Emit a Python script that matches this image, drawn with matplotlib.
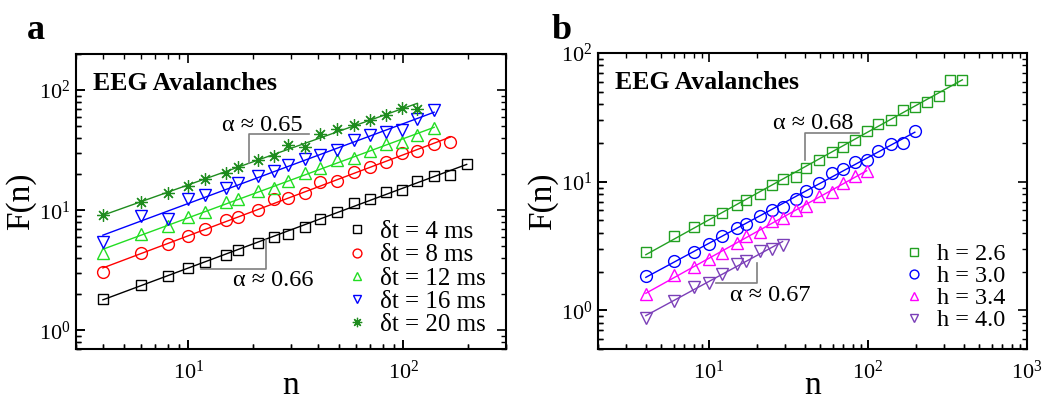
import matplotlib
matplotlib.use("Agg")
import matplotlib.pyplot as plt
import numpy as np
from matplotlib.ticker import LogLocator, NullFormatter

plt.rcParams['font.family'] = 'serif'
plt.rcParams['font.serif'] = ['Liberation Serif', 'DejaVu Serif']
plt.rcParams['mathtext.fontset'] = 'stix'
plt.rcParams.update({
    'xtick.direction': 'in', 'ytick.direction': 'in',
    'xtick.top': True, 'xtick.bottom': True,
    'ytick.left': True, 'ytick.right': True,
    'xtick.major.size': 6.5, 'ytick.major.size': 6.5,
    'xtick.minor.size': 3.6, 'ytick.minor.size': 3.6,
    'xtick.major.width': 1.2, 'ytick.major.width': 1.2,
    'xtick.minor.width': 1.0, 'ytick.minor.width': 1.0,
    'xtick.color': 'black', 'ytick.color': 'black',
    'xtick.labelsize': 16, 'ytick.labelsize': 16,
    'xtick.major.pad': 8, 'ytick.major.pad': 4,
    'axes.linewidth': 1.5,
})

# window sizes n (shared grid)
n_all = [4, 6, 8, 10, 12, 15, 17, 21, 25, 29, 35, 41, 49, 59, 70, 83, 98,
         116, 139, 165, 197, 234, 278, 330, 392]

# panel a: different delta t
labels_a = ['δt = 4 ms', 'δt = 8 ms', 'δt = 12 ms', 'δt = 16 ms', 'δt = 20 ms']
F_dt4 = [1.84, 2.40, 2.86, 3.30, 3.71, 4.27, 4.70, 5.34, 5.99, 6.35, 7.26,
         8.41, 9.68, 11.6, 12.5, 14.3, 14.7, 17.5, 19.4, 19.7, 24.5]
F_dt8 = [3.08, 4.38, 5.28, 6.10, 6.94, 8.30, 8.74, 10.0, 12.4, 12.6, 13.9,
         17.1, 17.5, 21.0, 23.1, 25.4, 29.9, 31.2, 35.9, 37.1]
F_dt12 = [4.38, 6.31, 7.40, 8.85, 9.75, 11.7, 12.4, 14.5, 15.3, 17.5, 20.6,
          22.7, 26.1, 27.1, 31.0, 35.3, 37.1, 42.7, 48.0]
F_dt16 = [5.48, 8.97, 8.53, 12.4, 13.3, 15.4, 16.8, 19.3, 21.1, 23.9, 26.6,
          29.1, 31.8, 38.3, 42.4, 45.0, 46.4, 57.3, 68.1]
F_dt20 = [9.20, 11.7, 14.0, 16.0, 18.1, 20.3, 23.0, 26.2, 28.4, 35.0, 33.7,
          43.3, 47.3, 51.4, 56.6, 62.7, 71.3, 70.3]
series_a = [F_dt4, F_dt8, F_dt12, F_dt16, F_dt20]
colors_a = ['black', '#ff0000', '#22dd22', '#0000ff', '#1e8c1e']
markers_a = ['s', 'o', '^', 'v', '*']

# panel b: different thresholds h
labels_b = ['h = 2.6', 'h = 3.0', 'h = 3.4', 'h = 4.0']
F_h26 = [2.84, 3.75, 4.44, 5.00, 5.67, 6.63, 7.21, 8.08, 9.44, 10.4, 10.8,
         12.8, 14.8, 17.0, 18.7, 21.0, 24.8, 28.3, 29.9, 36.1, 38.3, 41.9,
         46.4, 61.8, 62.0]
F_h30 = [1.84, 2.42, 2.84, 3.30, 3.75, 4.33, 4.68, 5.37, 6.02, 6.40, 7.34,
         8.48, 9.73, 11.7, 12.5, 14.2, 14.8, 17.4, 19.5, 19.9, 24.7]
F_h34 = [1.33, 1.87, 2.18, 2.52, 2.81, 3.31, 3.79, 4.03, 4.97, 5.18, 6.02,
         6.51, 7.80, 8.38, 9.79, 11.0, 12.0]
F_h40 = [0.87, 1.19, 1.52, 1.64, 1.90, 2.28, 2.42, 2.90, 3.02, 3.22]
series_b = [F_h26, F_h30, F_h34, F_h40]
colors_b = ['#22a022', '#0000ff', '#ff00ff', '#7b3fb8']
markers_b = ['s', 'o', '^', 'v']


def draw_panel(ax, series, colors, markers, labels, xlim, ylim,
               legfs, leg_anchor, legspace):
    ax.set_xscale('log')
    ax.set_yscale('log')
    for F, c, m, lab in zip(series, colors, markers, labels):
        n = np.array(n_all[:len(F)], dtype=float)
        F = np.array(F)
        slope, icpt = np.polyfit(np.log10(n), np.log10(F), 1)
        ax.plot(n, 10**icpt * n**slope, '-', color=c, lw=1.0)
        if m == '*':
            ax.plot(n, F, ls='none', marker=(8, 2, 0), ms=9, color=c,
                    mec=c, mew=0.9, label=lab)
        else:
            ms = {'s': 7.5, 'o': 8.5, '^': 8.5, 'v': 8.5}[m]
            ax.plot(n, F, ls='none', marker=m, ms=ms, mfc='none', mec=c,
                    mew=1.0, label=lab)
    ax.set_xlim(*xlim)
    ax.set_ylim(*ylim)
    ax.xaxis.set_major_locator(LogLocator(base=10, numticks=10))
    ax.yaxis.set_major_locator(LogLocator(base=10, numticks=10))
    ax.xaxis.set_minor_locator(LogLocator(base=10, subs=np.arange(2, 10), numticks=20))
    ax.yaxis.set_minor_locator(LogLocator(base=10, subs=np.arange(2, 10), numticks=20))
    ax.xaxis.set_minor_formatter(NullFormatter())
    ax.yaxis.set_minor_formatter(NullFormatter())
    ax.set_xlabel('n', fontsize=24, labelpad=-9)
    ax.set_ylabel('F(n)', fontsize=24, labelpad=2)
    ax.text(0.04, 0.9, 'EEG Avalanches', transform=ax.transAxes,
            fontsize=18.5, fontweight='bold', va='center', ha='left')
    ax.legend(loc='lower right', bbox_to_anchor=leg_anchor, frameon=False,
              fontsize=legfs, handletextpad=0.45, labelspacing=legspace,
              borderaxespad=0.0, handlelength=1.0, markerscale=0.75)


def inner_ticks(ax):
    # bottom/left tick marks, drawn from the axis locators as plain lines
    bb = ax.get_position()
    w_px = bb.width * fig.get_figwidth() * fig.dpi
    h_px = bb.height * fig.get_figheight() * fig.dpi
    x0, x1 = ax.get_xlim()
    y0, y1 = ax.get_ylim()
    for locs, L, lw in ((ax.xaxis.get_majorticklocs(), 9, 1.2),
                        (ax.xaxis.get_minorticklocs(), 5, 1.0)):
        for v in locs:
            if x0 <= v <= x1:
                ax.plot([v, v], [0, L / h_px], transform=ax.get_xaxis_transform(),
                        color='black', lw=lw, clip_on=False,
                        solid_capstyle='butt', zorder=3)
    for locs, L, lw in ((ax.yaxis.get_majorticklocs(), 9, 1.2),
                        (ax.yaxis.get_minorticklocs(), 5, 1.0)):
        for v in locs:
            if y0 <= v <= y1:
                ax.plot([0, L / w_px], [v, v], transform=ax.get_yaxis_transform(),
                        color='black', lw=lw, clip_on=False,
                        solid_capstyle='butt', zorder=3)
    ax.set_xlim(x0, x1)
    ax.set_ylim(y0, y1)


def slope_mark(ax, x0, x1, y0, y1, corner, text, tx, ty):
    gray = '#7f7f7f'
    if corner == 'top':
        ax.plot([x0, x0, x1], [y0, y1, y1], color=gray, lw=1.2)
    else:
        ax.plot([x0, x1, x1], [y0, y0, y1], color=gray, lw=1.2)
    ax.text(tx, ty, text, fontsize=17.5, ha='center', va='center')


fig = plt.figure(figsize=(10.46, 4.01), dpi=100)
ax_a = fig.add_axes([0.0727, 0.1297, 0.4110, 0.7356])
ax_b = fig.add_axes([0.5717, 0.1297, 0.4101, 0.7381])

draw_panel(ax_a, series_a, colors_a, markers_a, labels_a, (3, 300), (0.7, 200),
           18, (0.977, 0.01), 0.03)
slope_mark(ax_a, 19.1, 36.5, 24.9, 43.0, 'top', 'α ≈ 0.65', 22.1, 51.0)
slope_mark(ax_a, 11.5, 23.0, 3.27, 5.66, 'bottom', 'α ≈ 0.66', 24.7, 2.58)

draw_panel(ax_b, series_b, colors_b, markers_b, labels_b, (2, 1000), (0.5, 100),
           17.5, (0.972, 0.027), 0.0)
slope_mark(ax_b, 40.0, 87.7, 14.8, 24.1, 'top', 'α ≈ 0.68', 45.5, 28.5)
slope_mark(ax_b, 11.1, 20.1, 1.64, 2.34, 'bottom', 'α ≈ 0.67', 24.3, 1.31)

fig.text(0.026, 0.925, 'a', fontsize=26, fontweight='bold', va='center')
fig.text(0.527, 0.925, 'b', fontsize=26, fontweight='bold', va='center')

fig.canvas.draw()
inner_ticks(ax_a)
inner_ticks(ax_b)

fig.savefig('out.png', dpi=100)
